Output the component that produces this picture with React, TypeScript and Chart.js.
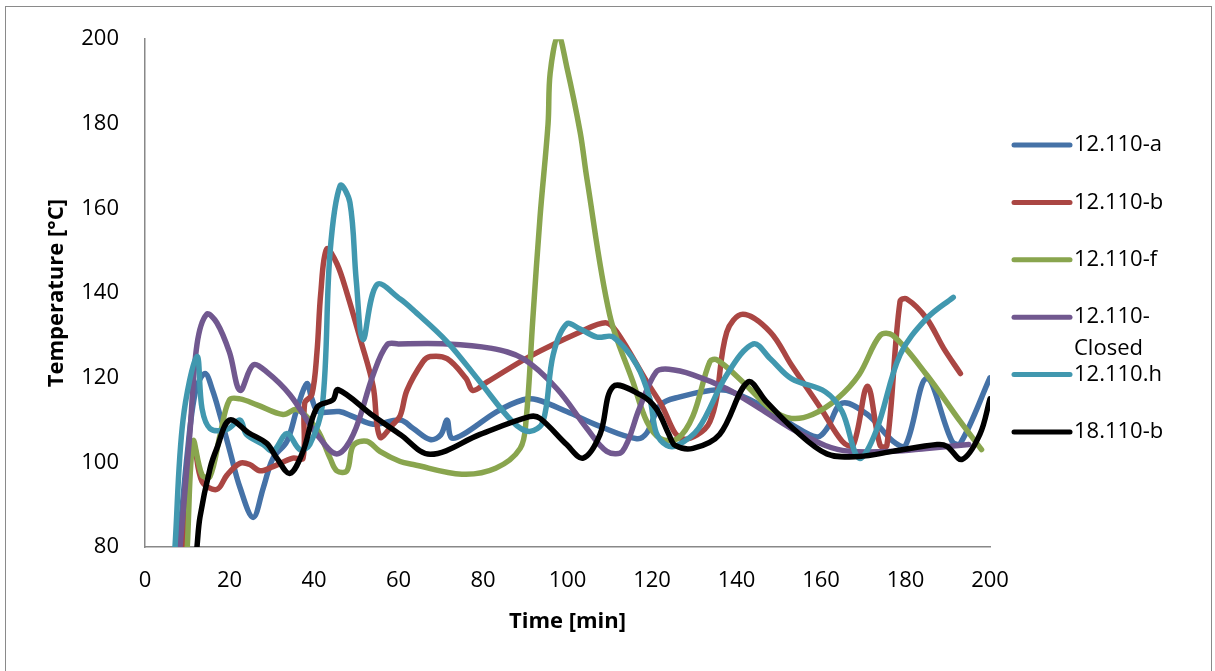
import { useEffect, useRef } from "react";
import { Chart, registerables } from "chart.js";

Chart.register(...registerables);

// ---- Data ----
const seriesNames = ["12.110-a", "12.110-b", "12.110-f", "12.110-Closed", "12.110.h", "18.110-b"];
const legendLines = [["12.110-a"], ["12.110-b"], ["12.110-f"], ["12.110-", "Closed"], ["12.110.h"], ["18.110-b"]];
const seriesColors = ["#4572A7", "#AA4643", "#89A54E", "#71588F", "#4198AF", "#000000"];

const aTime = [8, 10, 12, 14.2, 16, 17.8, 20, 22.5, 25.6, 28, 30.3, 33.6, 36, 38.3, 39.5, 41, 46, 49.3, 54, 60.4, 63.5, 67.5, 70, 71.5, 72.5, 75.3, 83.3, 89.5, 92.8, 99.8, 107.7, 116.4, 118.8, 122, 126.6, 133.7, 137.7, 145.6, 153, 159, 161.4, 165, 171, 177, 180, 185, 191, 193, 200];
const aTemp = [80, 102, 117, 121, 117, 111, 103, 94, 87, 94, 101, 105, 112.7, 118.6, 115, 112, 112, 110.8, 109, 110, 108, 105.4, 106.5, 110, 105.8, 106.6, 112, 114.8, 114.8, 112, 108.5, 105.6, 107, 113.6, 115.5, 117, 117, 113.6, 109, 106, 108, 114, 111.3, 105, 104, 119.8, 105, 104.5, 120];

const bTime = [9, 10.5, 11.6, 13.5, 17, 19.4, 22.5, 24.8, 27.2, 30.3, 35, 37.4, 37.8, 39.5, 40.7, 41.6, 43, 45.4, 47.8, 51, 54, 55.6, 58.7, 60.4, 62, 65.8, 67.5, 71.5, 76, 77.6, 81, 91, 103, 109, 111.7, 118.8, 122, 127, 133.7, 137.7, 141.5, 148, 153, 160, 165, 167.6, 171, 174, 175.6, 178.7, 180.3, 185, 189, 193];
const bTemp = [80, 100, 104, 95.5, 93.6, 97, 99.8, 99.5, 98, 99, 101, 101, 114, 116, 126, 140, 150.4, 147, 140, 129, 118, 106, 109, 111, 117, 123.8, 125, 124.5, 119.8, 117, 119, 125, 130.8, 133, 130.8, 119, 114, 105.6, 109.6, 130.8, 135, 130.8, 123, 112.7, 105, 104, 118, 104, 104, 138, 138.6, 134, 127, 121];

const fTime = [10, 11.4, 13.5, 15.4, 17.8, 20, 22.5, 26.5, 32.7, 36, 40.7, 43.8, 45.4, 47.8, 49.3, 52.5, 55.6, 60.4, 63.5, 75, 83, 88.8, 90.2, 91.8, 93.5, 95.4, 95.9, 97.8, 99.8, 103, 104.6, 110, 115.5, 118.8, 122, 126, 129.7, 133.7, 135.4, 141.5, 148, 153, 158, 163.8, 169, 174, 177, 185, 193, 198];
const fTemp = [80, 105, 97, 96.7, 106.6, 114.8, 115, 113.6, 111.3, 112.5, 107.8, 101, 98, 98, 104, 105, 102.6, 100.2, 99.5, 97.2, 98.6, 103.3, 110, 134, 158, 180, 192, 201, 193.6, 178, 167, 134.8, 119, 109.6, 105.6, 105.6, 111, 123.8, 124.2, 119, 112.7, 110.4, 111.3, 115, 120.7, 130, 130, 120.7, 109.6, 103];

const cTime = [8.3, 10.6, 12.3, 14.6, 17, 20, 22.5, 25.6, 28.8, 34.3, 40.7, 45.4, 49.3, 54, 57.3, 60, 71.5, 81.7, 89.5, 97.5, 104.6, 109.3, 113, 117, 121, 124, 129.7, 137.7, 145.6, 153, 161, 166.8, 177, 185, 195];
const cTemp = [80, 106.6, 127.8, 135, 133, 126, 117, 123, 121.4, 116, 106.6, 102, 106.6, 120.7, 127.8, 128, 128, 127, 124.5, 117.4, 108, 102.6, 102.6, 112.7, 121.4, 122, 120.7, 117.4, 112.7, 108, 104, 102.6, 102.6, 103.3, 104.2];

const hTime = [7.1, 9, 12.3, 13.5, 15.4, 19.4, 22.5, 24, 28, 30.3, 33.6, 36.7, 39, 42, 43.8, 46.2, 48.5, 50, 51.6, 54.9, 60.4, 63.5, 71.5, 79.3, 87, 91, 94.2, 96.6, 99.8, 103, 107, 110.8, 116.4, 119.5, 121, 123.5, 126, 131, 137.7, 144, 148, 153, 161, 165, 169, 173, 178.7, 185, 191.3];
const hTemp = [80, 110, 125, 112.7, 108, 107.8, 110, 106.6, 104.2, 102.6, 106.8, 103, 104.2, 113.6, 149.6, 165.4, 161.4, 143, 129, 142, 138.6, 136, 128.5, 119, 109.6, 107.3, 109.6, 125.4, 132.7, 131.5, 129.6, 129.6, 123, 115, 107, 104, 104, 108, 120.7, 128, 124.5, 119.8, 116.7, 112, 101, 107.3, 125.4, 134, 139];

const kTime = [12.3, 13, 15.4, 17, 20, 24.5, 28.8, 31.2, 34.3, 37.4, 40.7, 44.5, 45.7, 54, 60.4, 67.5, 79.3, 91, 93.5, 99.8, 103.7, 107.7, 110.8, 117.2, 121, 124, 125.5, 129.7, 136, 142.7, 147, 153.4, 161.4, 169, 177, 187.5, 189.8, 193.4, 197.6, 200];
const kTemp = [80, 87, 98.6, 103.3, 110, 107, 104.5, 101, 97.4, 102.6, 113, 114.8, 117.2, 111, 106.6, 101.9, 106.6, 110.8, 110.4, 104.2, 101, 106.6, 117.9, 116, 112.7, 106.6, 104, 103.3, 106.6, 119, 114.4, 108, 102, 101.4, 102.6, 104.2, 103.8, 100.7, 106.6, 115];

const seriesTimes = [aTime, bTime, fTime, cTime, hTime, kTime];
const seriesTemps = [aTemp, bTemp, fTemp, cTemp, hTemp, kTemp];

const xMin = 0, xMax = 200, xStep = 20;
const yMin = 80, yMax = 200, yStep = 20;
const xTitle = "Time [min]";
const yTitle = "Temperature [°C]";

const FONT = "'Open Sans', 'DejaVu Sans', sans-serif";

export default function App() {
  const ref = useRef<HTMLCanvasElement>(null);

  useEffect(() => {
    const canvas = ref.current;
    if (!canvas) return;

    const legendPlugin = {
      id: "sideLegend",
      afterDraw(chart: any) {
        const ctx = chart.ctx;
        const x0 = chart.chartArea.right + 24;
        const lineLen = 56;
        const startY = 145;
        const step = 57.4;
        ctx.save();
        ctx.font = `22px ${FONT}`;
        ctx.textBaseline = "middle";
        ctx.textAlign = "left";
        legendLines.forEach((lines, i) => {
          const y = startY + i * step;
          ctx.strokeStyle = seriesColors[i];
          ctx.lineWidth = 5;
          ctx.lineCap = "round";
          ctx.beginPath();
          ctx.moveTo(x0, y);
          ctx.lineTo(x0 + lineLen, y);
          ctx.stroke();
          ctx.fillStyle = "#000";
          lines.forEach((t, j) => ctx.fillText(t, x0 + lineLen + 4, y + j * 32));
        });
        ctx.restore();
      },
    };

    const datasets = seriesNames.map((name, i) => ({
      label: name,
      data: seriesTimes[i].map((t, j) => ({ x: t, y: seriesTemps[i][j] })),
      borderColor: seriesColors[i],
      backgroundColor: seriesColors[i],
      borderWidth: 5.5,
      pointRadius: 0,
      tension: 0.35,
      borderCapStyle: "round" as const,
      borderJoinStyle: "round" as const,
      order: seriesNames.length - i,
      fill: false,
    }));

    const chart = new Chart(canvas, {
      type: "line",
      data: { datasets },
      options: {
        animation: false,
        responsive: false,
        devicePixelRatio: 1,
        layout: { padding: { top: 34, right: 225, left: 0, bottom: 0 } },
        plugins: { legend: { display: false }, tooltip: { enabled: false } },
        scales: {
          x: {
            type: "linear",
            min: xMin,
            max: xMax,
            ticks: { stepSize: xStep, padding: 21, color: "#000", font: { family: FONT, size: 22 }, maxRotation: 0, autoSkip: false },
            grid: { display: false, drawTicks: false },
            border: { display: true, color: "#888888", width: 1.5 },
            title: { display: true, text: xTitle, color: "#000", font: { family: FONT, size: 22, weight: "bold" }, padding: { top: 0, bottom: 36 } },
            afterFit: (s: any) => { s.height = 124; },
          },
          y: {
            type: "linear",
            min: yMin,
            max: yMax,
            ticks: { stepSize: yStep, padding: 26, color: "#000", font: { family: FONT, size: 22 } },
            grid: { display: false, drawTicks: false },
            border: { display: true, color: "#888888", width: 1.5 },
            title: { display: true, text: yTitle, color: "#000", font: { family: FONT, size: 22, weight: "bold" }, padding: { top: 44, bottom: 0 } },
            afterFit: (s: any) => { s.width = 145; },
          },
        },
      },
      plugins: [legendPlugin],
    } as any);

    return () => chart.destroy();
  }, []);

  return (
    <div style={{ position: "absolute", left: 0, top: 0, width: 1215, height: 671, overflow: "hidden", background: "#fff" }}>
      <div style={{ position: "absolute", left: 5, top: 6, width: 1207, height: 700, border: "1px solid #8a8a8a", boxSizing: "border-box" }} />
      <canvas ref={ref} width={1215} height={671} style={{ position: "absolute", left: 0, top: 0, width: 1215, height: 671 }} />
    </div>
  );
}
